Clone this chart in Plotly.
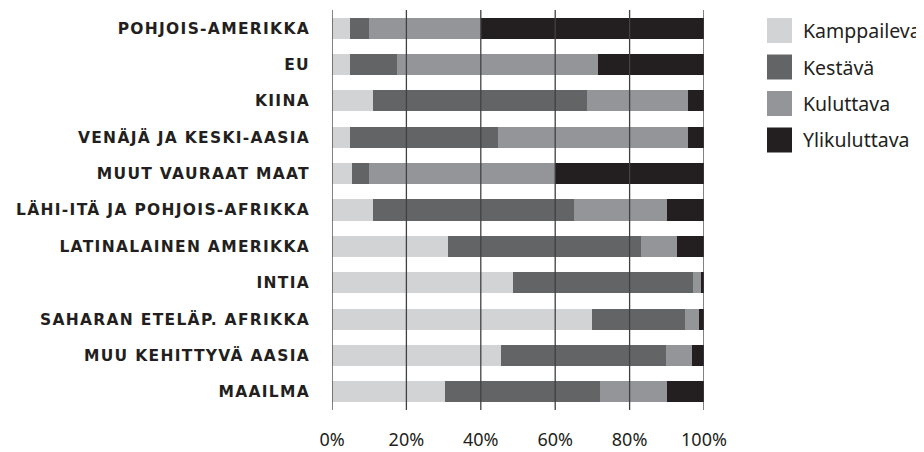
import plotly.graph_objects as go

categories = ["POHJOIS-AMERIKKA", "EU", "KIINA", "VENÄJÄ JA KESKI-AASIA", "MUUT VAURAAT MAAT",
              "LÄHI-ITÄ JA POHJOIS-AFRIKKA", "LATINALAINEN AMERIKKA", "INTIA",
              "SAHARAN ETELÄP. AFRIKKA", "MUU KEHITTYVÄ AASIA", "MAAILMA"]
kamppaileva = [4.8, 4.8, 11.0, 4.8, 5.4, 11.0, 31.2, 48.7, 69.9, 45.4, 30.4]
kestava = [5.1, 12.7, 57.5, 39.8, 4.5, 54.1, 51.9, 48.3, 25.0, 44.4, 41.6]
kuluttava = [30.1, 54.0, 27.2, 51.1, 50.1, 25.0, 9.6, 2.2, 3.8, 7.0, 18.1]
ylikuluttava = [60.0, 28.5, 4.3, 4.3, 40.0, 9.9, 7.3, 0.8, 1.3, 3.2, 9.9]
series_names = ["Kamppaileva", "Kestävä", "Kuluttava", "Ylikuluttava"]
colors = ["#d1d3d4", "#636466", "#939598", "#231f20"]
tick_vals = [0, 20, 40, 60, 80, 100]
tick_text = ["0%", "20%", "40%", "60%", "80%", "100%"]

# plot area in pixels (for legend layout conversion)
PLOT_W, PLOT_H = 372, 400

fig = go.Figure()
for name, vals, col in zip(series_names, [kamppaileva, kestava, kuluttava, ylikuluttava], colors):
    fig.add_trace(go.Bar(y=categories, x=vals, name=name, orientation="h",
                         marker=dict(color=col, line=dict(width=0)), showlegend=False,
                         hovertemplate="%{y}<br>" + name + ": %{x:.1f}%<extra></extra>"))

for tv in tick_vals:
    fig.add_shape(type="line", xref="x", yref="paper", x0=tv, x1=tv, y0=0, y1=1,
                  line=dict(color="#414042", width=1.3), layer="above")

# custom legend (large square swatches)
sq = 25
lx0 = 435 / PLOT_W
ly_top = (400 - 8) / PLOT_H
step = 36.5
for i, (name, col) in enumerate(zip(series_names, colors)):
    top = ly_top - i * step / PLOT_H
    fig.add_shape(type="rect", xref="paper", yref="paper",
                  x0=lx0, x1=lx0 + sq / PLOT_W, y0=top - sq / PLOT_H, y1=top,
                  fillcolor=col, line=dict(width=0))
    fig.add_annotation(xref="paper", yref="paper", x=lx0 + 34 / PLOT_W, y=top - sq / 2 / PLOT_H,
                       text=name, showarrow=False, xanchor="left", yanchor="middle",
                       font=dict(family="Noto Sans", size=19.5, color="#231f20"))

ticktext_y = ['<span style="letter-spacing:1.3px">' + c + '</span>' for c in categories]

fig.update_layout(
    barmode="stack",
    bargap=0.42,
    width=924, height=452,
    margin=dict(l=324, r=228, t=2, b=50),
    plot_bgcolor="white", paper_bgcolor="white",
    showlegend=False,
    xaxis=dict(range=[0, 100], tickvals=tick_vals, ticktext=tick_text, showgrid=False,
               zeroline=False, showline=False, ticks="", ticklabelstandoff=17,
               tickfont=dict(family="Noto Sans", size=18, color="#231f20")),
    yaxis=dict(autorange="reversed", showgrid=False, zeroline=False, showline=False,
               ticks="", ticklabelstandoff=21, tickvals=categories, ticktext=ticktext_y,
               tickfont=dict(family="DejaVu Sans", size=15.5, color="#231f20", weight="bold")),
)
fig.write_html("out.html")
